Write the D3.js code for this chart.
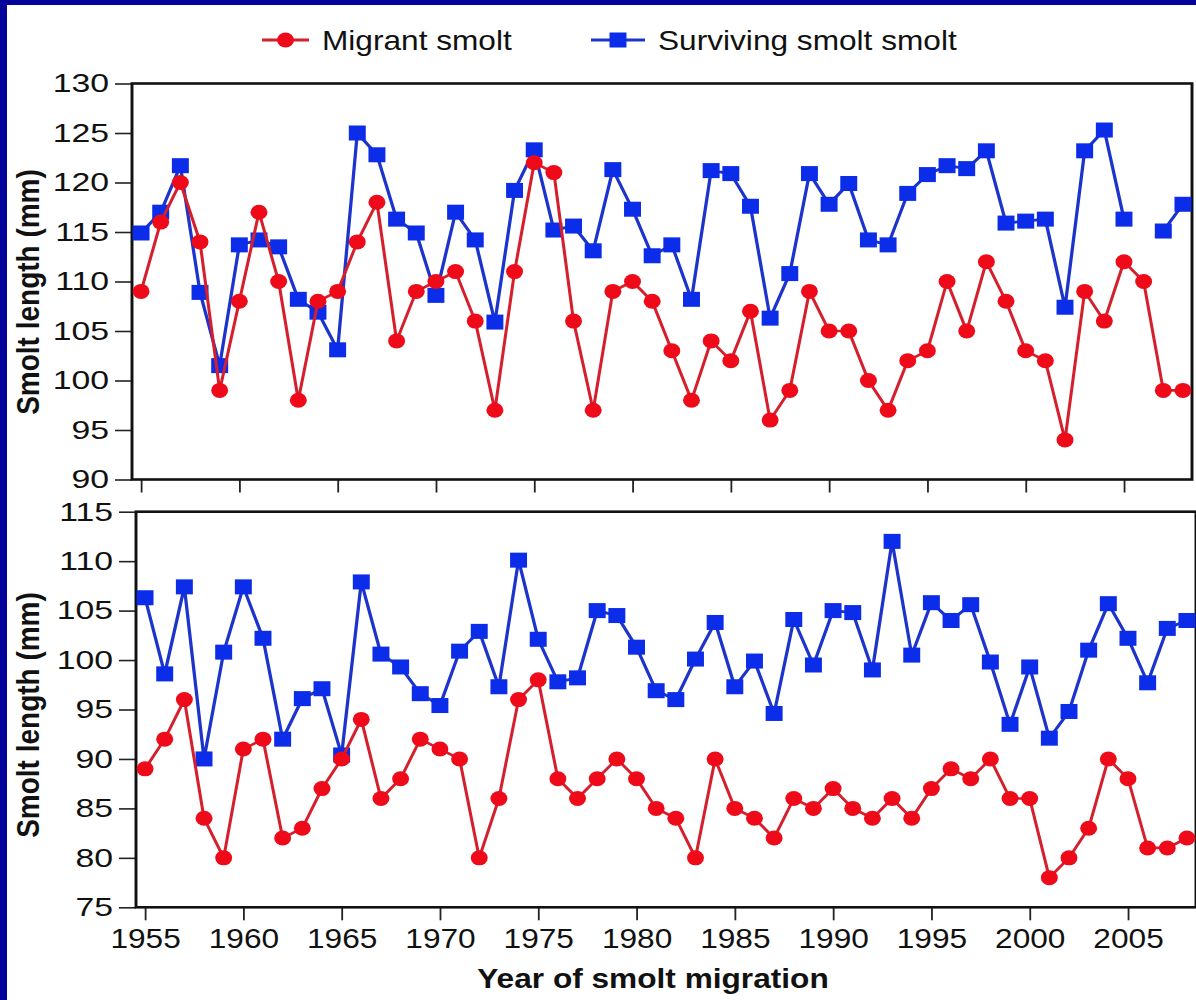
<!DOCTYPE html>
<html>
<head>
<meta charset="utf-8">
<script src="https://cdn.jsdelivr.net/npm/d3@7"></script>
<style>
  html, body { margin: 0; padding: 0; background: #fff; overflow: hidden; }
  svg { display: block; }
</style>
</head>
<body>
<script>
// Years of smolt migration
const years = [1955, 1956, 1957, 1958, 1959, 1960, 1961, 1962, 1963, 1964,
               1965, 1966, 1967, 1968, 1969, 1970, 1971, 1972, 1973, 1974,
               1975, 1976, 1977, 1978, 1979, 1980, 1981, 1982, 1983, 1984,
               1985, 1986, 1987, 1988, 1989, 1990, 1991, 1992, 1993, 1994,
               1995, 1996, 1997, 1998, 1999, 2000, 2001, 2002, 2003, 2004,
               2005, 2006, 2007, 2008];

// Upper panel: smolt length (mm)
const migrantUpper = [109, 116, 120, 114, 99, 108, 117, 110, 98, 108,
                      109, 114, 118, 104, 109, 110, 111, 106, 97, 111,
                      122, 121, 106, 97, 109, 110, 108, 103, 98, 104,
                      102, 107, 96, 99, 109, 105, 105, 100, 97, 102,
                      103, 110, 105, 112, 108, 103, 102, 94, 109, 106,
                      112, 110, 99, 99];
const survivingUpper = [114.9, 117.0, 121.7, 108.9, 101.5, 113.7, 114.2, 113.5, 108.2, 106.9,
                        103.1, 125.0, 122.8, 116.3, 114.9, 108.6, 117.0, 114.2, 105.9, 119.2,
                        123.3, 115.2, 115.6, 113.1, 121.3, 117.3, 112.6, 113.7, 108.2, 121.2,
                        120.9, 117.6, 106.3, 110.8, 120.9, 117.8, 119.9, 114.2, 113.7, 118.9,
                        120.8, 121.7, 121.4, 123.2, 115.9, 116.1, 116.3, 107.4, 123.2, 125.3,
                        116.3, null, 115.1, 117.8];

// Lower panel: smolt length (mm)
const migrantLower = [89, 92, 96, 84, 80, 91, 92, 82, 83, 87,
                      90, 94, 86, 88, 92, 91, 90, 80, 86, 96,
                      98, 88, 86, 88, 90, 88, 85, 84, 80, 90,
                      85, 84, 82, 86, 85, 87, 85, 84, 86, 84,
                      87, 89, 88, 90, 86, 86, 78, 80, 83, 90,
                      88, 81, 81, 82];
const survivingLower = [106.3, 98.6, 107.4, 90.0, 100.8, 107.4, 102.2, 92.0, 96.1, 97.1,
                        90.4, 107.9, 100.6, 99.3, 96.6, 95.4, 100.9, 102.9, 97.3, 110.1,
                        102.1, 97.8, 98.2, 105.0, 104.5, 101.3, 96.9, 96.0, 100.1, 103.8,
                        97.3, 99.9, 94.6, 104.1, 99.5, 105.0, 104.8, 99.0, 112.0, 100.5,
                        105.8, 104.0, 105.6, 99.8, 93.5, 99.3, 92.1, 94.8, 101.0, 105.7,
                        102.2, 97.7, 103.2, 104.0];

// Axis ticks and labels
const xTicks = [1955, 1960, 1965, 1970, 1975, 1980, 1985, 1990, 1995, 2000, 2005];
const yTicksUpper = [90, 95, 100, 105, 110, 115, 120, 125, 130];
const yTicksLower = [75, 80, 85, 90, 95, 100, 105, 110, 115];
const seriesNames = ["Migrant smolt", "Surviving smolt smolt"];
const yTitle = "Smolt length (mm)";
const xTitle = "Year of smolt migration";

// ---- drawing ----
const W = 1196, H = 1000;
const SX = 1.13;                 // horizontal stretch of the whole figure
const vx = v => v / SX;          // screen px -> viewBox x units
const FONT = "'Liberation Sans', Arial, Helvetica, sans-serif";
const RED_LINE = "#d61f2c", RED_MARK = "#ee0a18";
const BLUE_LINE = "#1c34cc", BLUE_MARK = "#0b2ce8";
const R = 7.5, SIDE = 15;
const YLABEL_WIDEN = 1.15;       // y tick numerals are set a little wider

const svg = d3.select("body").append("svg")
  .attr("width", W).attr("height", H)
  .attr("viewBox", `0 0 ${W / SX} ${H}`)
  .attr("preserveAspectRatio", "none");

svg.append("rect").attr("x", 0).attr("y", 0).attr("width", W / SX).attr("height", H).attr("fill", "#fff");
// dark blue slide border (left and top)
svg.append("rect").attr("x", 0).attr("y", 0).attr("width", vx(7)).attr("height", H).attr("fill", "#04049a");
svg.append("rect").attr("x", 0).attr("y", 0).attr("width", W / SX).attr("height", 5).attr("fill", "#04049a");

const panels = [
  { left: 132, right: 1192, top: 83.5, bottom: 479.5, yDomain: [90, 130], yTicks: yTicksUpper,
    migrant: migrantUpper, surviving: survivingUpper, xLabels: false, titleY: 292 },
  { left: 136, right: 1196, top: 511.7, bottom: 907.3, yDomain: [75, 115], yTicks: yTicksLower,
    migrant: migrantLower, surviving: survivingLower, xLabels: true, titleY: 715 }
];

const xDomain = [1954.54, 2008.46];

panels.forEach(p => {
  const x = d3.scaleLinear().domain(xDomain).range([vx(p.left), vx(p.right)]);
  const y = d3.scaleLinear().domain(p.yDomain).range([p.bottom, p.top]);
  const g = svg.append("g");

  // y axis
  const ya = g.append("g").attr("transform", `translate(${vx(p.left)},0)`)
    .call(d3.axisLeft(y).tickValues(p.yTicks).tickSize(vx(17)).tickSizeOuter(0).tickPadding(vx(6)));
  ya.select(".domain").remove();
  ya.selectAll("line").attr("stroke", "#222").attr("stroke-width", 1.6);
  ya.selectAll("text")
    .attr("font-family", FONT).attr("font-size", 26).attr("fill", "#111")
    .each(function () {
      const t = d3.select(this);
      t.attr("x", +t.attr("x") / YLABEL_WIDEN).attr("transform", `scale(${YLABEL_WIDEN},1)`);
    });

  // x axis
  const xa = g.append("g").attr("transform", `translate(0,${p.bottom})`)
    .call(d3.axisBottom(x).tickValues(xTicks).tickSize(13).tickSizeOuter(0).tickPadding(7.5)
      .tickFormat(p.xLabels ? d3.format("d") : () => ""));
  xa.select(".domain").remove();
  xa.selectAll("line").attr("stroke", "#222").attr("stroke-width", 1.6);
  xa.selectAll("text").attr("font-family", FONT).attr("font-size", 28).attr("fill", "#111");

  // frame
  g.append("rect")
    .attr("x", vx(p.left)).attr("y", p.top)
    .attr("width", vx(p.right - p.left)).attr("height", p.bottom - p.top)
    .attr("fill", "none").attr("stroke", "#111").attr("stroke-width", 2.6);

  // y title
  g.append("text")
    .attr("transform", `translate(${vx(28)},${p.titleY}) rotate(-90)`)
    .attr("text-anchor", "middle").attr("dominant-baseline", "central")
    .attr("font-family", FONT).attr("font-weight", "bold").attr("font-size", 28).attr("fill", "#111")
    .text(yTitle);

  const line = d3.line()
    .defined(d => d.v != null)
    .x(d => x(d.year)).y(d => y(d.v));

  const surv = years.map((yr, i) => ({ year: yr, v: p.surviving[i] }));
  const migr = years.map((yr, i) => ({ year: yr, v: p.migrant[i] }));

  // surviving smolt (blue squares)
  g.append("path").datum(surv).attr("d", line)
    .attr("fill", "none").attr("stroke", BLUE_LINE).attr("stroke-width", 2.9).attr("stroke-linejoin", "round");
  g.append("g").selectAll("rect").data(surv.filter(d => d.v != null)).join("rect")
    .attr("x", d => x(d.year) - SIDE / 2).attr("y", d => y(d.v) - SIDE / 2)
    .attr("width", SIDE).attr("height", SIDE).attr("fill", BLUE_MARK);

  // migrant smolt (red circles)
  g.append("path").datum(migr).attr("d", line)
    .attr("fill", "none").attr("stroke", RED_LINE).attr("stroke-width", 2.7).attr("stroke-linejoin", "round");
  g.append("g").selectAll("circle").data(migr.filter(d => d.v != null)).join("circle")
    .attr("cx", d => x(d.year)).attr("cy", d => y(d.v)).attr("r", R).attr("fill", RED_MARK);
});

// x title
svg.append("text")
  .attr("x", vx(653)).attr("y", 988)
  .attr("text-anchor", "middle")
  .attr("font-family", FONT).attr("font-weight", "bold").attr("font-size", 28).attr("fill", "#111")
  .text(xTitle);

// legend
const legend = svg.append("g");
const LY = 40;
const legendItems = [
  { name: seriesNames[0], x0: 262, x1: 309, tx: 322, line: RED_LINE, mark: RED_MARK, shape: "circle" },
  { name: seriesNames[1], x0: 591, x1: 645, tx: 658, line: BLUE_LINE, mark: BLUE_MARK, shape: "square" }
];
legendItems.forEach(it => {
  legend.append("line").attr("x1", vx(it.x0)).attr("x2", vx(it.x1)).attr("y1", LY).attr("y2", LY)
    .attr("stroke", it.line).attr("stroke-width", 2.8);
  const cx = vx((it.x0 + it.x1) / 2);
  if (it.shape === "circle") {
    legend.append("circle").attr("cx", cx).attr("cy", LY).attr("r", R).attr("fill", it.mark);
  } else {
    legend.append("rect").attr("x", cx - SIDE / 2).attr("y", LY - SIDE / 2).attr("width", SIDE).attr("height", SIDE).attr("fill", it.mark);
  }
  legend.append("text").attr("x", vx(it.tx)).attr("y", LY).attr("dominant-baseline", "central")
    .attr("font-family", FONT).attr("font-size", 28).attr("fill", "#111").text(it.name);
});
</script>
</body>
</html>
